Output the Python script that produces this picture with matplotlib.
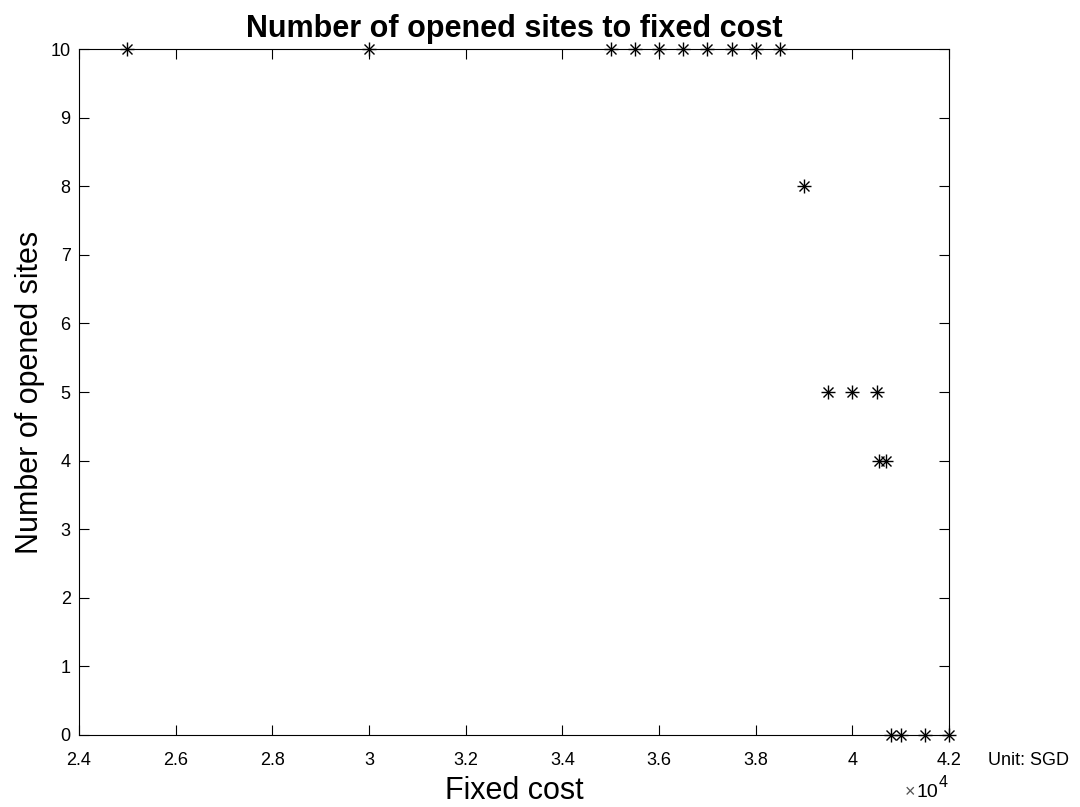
import numpy as np
import matplotlib.pyplot as plt

plt.rcParams['font.family'] = ['Liberation Sans', 'DejaVu Sans']

# data (fixed cost in SGD, number of opened sites)
fixed_cost = [25000, 30000, 35000, 35500, 36000, 36500, 37000, 37500, 38000, 38500,
              39000, 39500, 40000, 40500, 40550, 40700, 40800, 41000, 41500, 42000]
opened_sites = [10, 10, 10, 10, 10, 10, 10, 10, 10, 10,
                8, 5, 5, 5, 4, 4, 0, 0, 0, 0]

x_ticks = np.arange(24000, 42001, 2000)
x_ticklabels = ["2.4", "2.6", "2.8", "3", "3.2", "3.4", "3.6", "3.8", "4", "4.2"]

fig = plt.figure(figsize=(10.8, 8.07), dpi=100)
ax = fig.add_axes([0.07315, 0.08922, 0.80556, 0.85006])

# MATLAB-style asterisk = '+' and 'x' on top of each other
ax.plot(fixed_cost, opened_sites, linestyle='none', marker='+', markersize=9.5,
        color='black', markeredgewidth=1.0, clip_on=False)
ax.plot(fixed_cost, opened_sites, linestyle='none', marker='x', markersize=6.7,
        color='black', markeredgewidth=1.0, clip_on=False)

ax.set_xlim(24000, 42000)
ax.set_ylim(0, 10)
ax.set_xticks(x_ticks)
ax.set_xticklabels(x_ticklabels)
ax.set_yticks(range(0, 11))
ax.tick_params(direction='in', top=True, right=True, labelsize=13, length=7, width=0.8)
ax.tick_params(axis='x', pad=12)
ax.tick_params(axis='y', pad=6)
for s in ax.spines.values():
    s.set_linewidth(0.8)

ax.set_xlabel("Fixed cost", fontsize=22, labelpad=5)
ax.set_ylabel("Number of opened sites", fontsize=22, labelpad=4)
ax.set_title("Number of opened sites to fixed cost", fontsize=22, fontweight='bold', pad=8.6)

fig.text(0.9148, 0.0520, "Unit: SGD", fontsize=13, ha='left', va='baseline')
# exponent label like MATLAB: "×10" with a raised "4"
fig.text(0.8685, 0.0124, "10", fontsize=14, ha='right', va='baseline')
fig.text(0.8475, 0.0124, "×", fontsize=13, ha='right', va='baseline', color='#555555')
fig.text(0.8690, 0.0248, "4", fontsize=11.5, ha='left', va='baseline')

fig.savefig("out.png", dpi=100)
